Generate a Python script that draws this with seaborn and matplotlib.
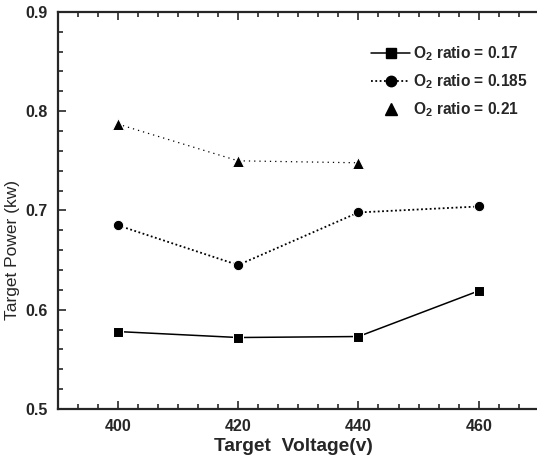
import matplotlib
matplotlib.use("Agg")
import matplotlib.pyplot as plt
from matplotlib.lines import Line2D
from matplotlib.ticker import MultipleLocator, AutoMinorLocator
import seaborn as sns
import pandas as pd

# ---- data ----
VOLTAGE = [400, 420, 440, 460]
POWER_017 = [0.578, 0.572, 0.573, 0.619]
POWER_0185 = [0.685, 0.645, 0.698, 0.704]
VOLTAGE_021 = [400, 420, 440]
POWER_021 = [0.787, 0.750, 0.748]

LABELS = [r"O$_\mathbf{2}$ ratio = 0.17",
          r"O$_\mathbf{2}$ ratio = 0.185",
          r"O$_\mathbf{2}$ ratio = 0.21"]

sns.set_style("ticks")
plt.rcParams["font.family"] = ["Liberation Sans", "DejaVu Sans"]
plt.rcParams["font.weight"] = "bold"
plt.rcParams["mathtext.fontset"] = "custom"
plt.rcParams["mathtext.rm"] = "Liberation Sans:bold"
plt.rcParams["mathtext.bf"] = "Liberation Sans:bold"

fig = plt.figure(figsize=(5.37, 4.58), dpi=100)
ax = fig.add_axes([0.1075, 0.107, 0.896, 0.867])

df1 = pd.DataFrame({"v": VOLTAGE, "p": POWER_017})
df2 = pd.DataFrame({"v": VOLTAGE, "p": POWER_0185})
df3 = pd.DataFrame({"v": VOLTAGE_021, "p": POWER_021})

sns.lineplot(data=df1, x="v", y="p", ax=ax, color="black", marker="s",
             markersize=7, linewidth=1.1, linestyle="-")
sns.lineplot(data=df2, x="v", y="p", ax=ax, color="black", marker="o",
             markersize=7.5, linewidth=1.3, linestyle=(0, (1, 1.4)))
sns.lineplot(data=df3, x="v", y="p", ax=ax, color="black", marker="^",
             markersize=8.5, linewidth=0.9, linestyle=(0, (1, 3.2)))

ax.set_xlim(390, 470)
ax.set_ylim(0.5, 0.9)
ax.xaxis.set_major_locator(MultipleLocator(20))
ax.xaxis.set_minor_locator(AutoMinorLocator(6))
ax.yaxis.set_major_locator(MultipleLocator(0.1))
ax.yaxis.set_minor_locator(AutoMinorLocator(5))
ax.tick_params(which="both", direction="in", top=True, right=False,
               width=1.2, labelsize=11.5, pad=7)
ax.tick_params(which="major", length=6)
ax.tick_params(which="minor", length=3.5)
for s in ax.spines.values():
    s.set_linewidth(1.6)
ax.spines["right"].set_visible(False)

ax.set_xlabel("Target  Voltage(v)", fontsize=13.8, fontweight="bold")
ax.set_ylabel("Target Power (kw)", fontsize=12.5, fontweight="normal")
ax.xaxis.set_label_coords(0.49, -0.072)
ax.yaxis.set_label_coords(-0.078, 0.40)

handles = [
    Line2D([], [], color="black", marker="s", markersize=7, linewidth=1.1, linestyle="-"),
    Line2D([], [], color="black", marker="o", markersize=7.5, linewidth=1.3, linestyle=(0, (1, 1.4))),
    Line2D([], [], color="black", marker="^", markersize=8.5, linestyle="none"),
]
ax.legend(handles, LABELS, loc="upper left", bbox_to_anchor=(0.652, 0.918),
          frameon=False, fontsize=11.2, handlelength=2.5, handletextpad=0.15,
          labelspacing=0.6, borderpad=0, borderaxespad=0)

fig.savefig("out.png", dpi=100)
